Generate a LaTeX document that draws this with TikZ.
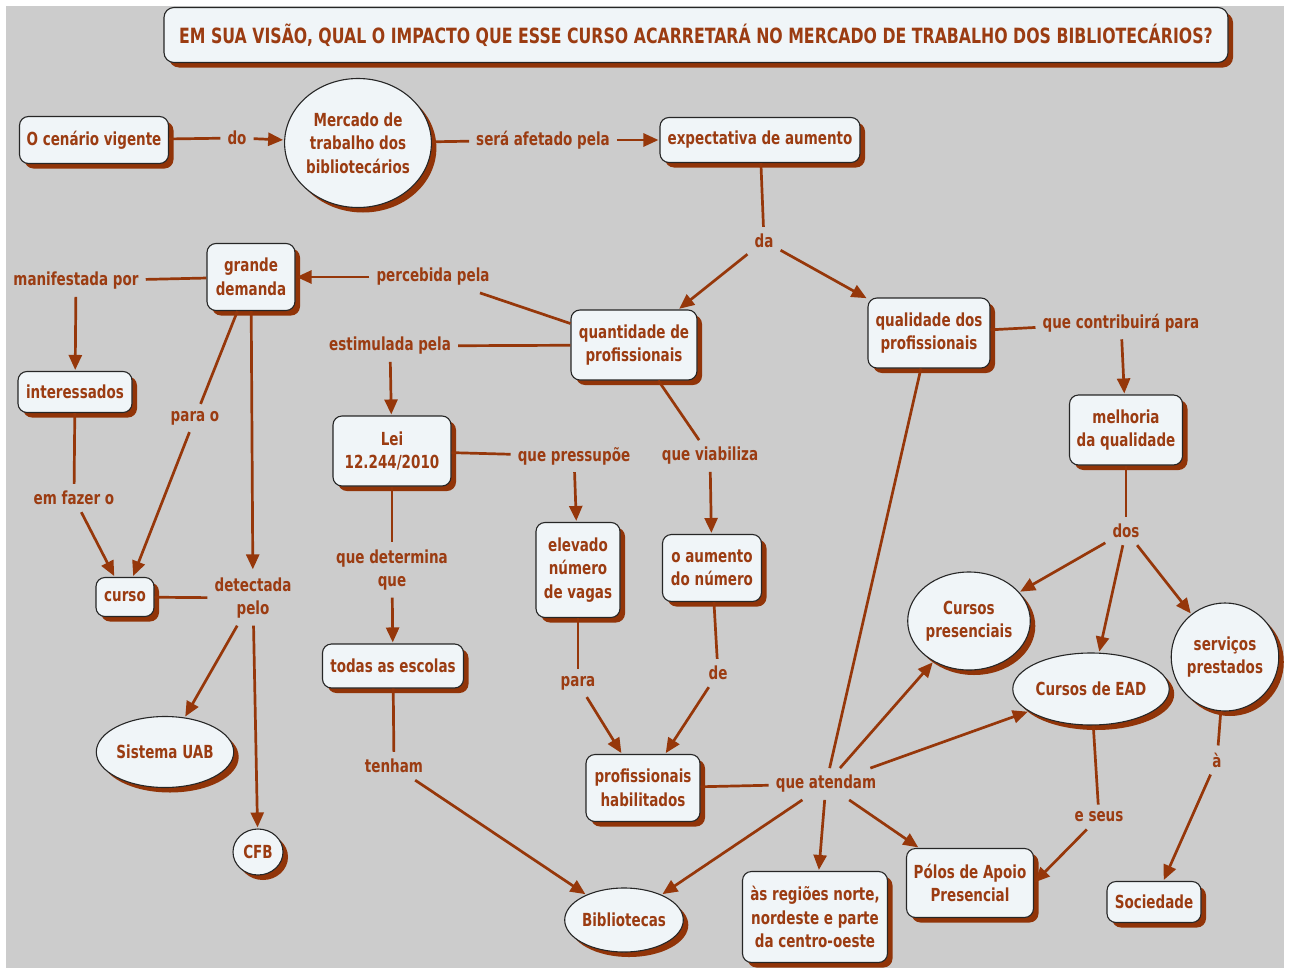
\documentclass[tikz,border=0pt]{standalone}
\usepackage{fontspec}
\usetikzlibrary{arrows.meta,shapes.geometric,shadows}
\newfontfamily\mapface{DejaVu Sans}[FakeStretch=0.75]
\newcommand\mapfont{\mapface\bfseries\fontsize{18}{23.5}\selectfont}
\newcommand\headfont{\mapface\bfseries\fontsize{21}{25}\selectfont}
\definecolor{canvasgray}{RGB}{204,204,204}
\definecolor{txt}{RGB}{155,60,18}
\definecolor{lnk}{RGB}{150,55,10}
\definecolor{shade}{RGB}{145,52,8}
\definecolor{nodefill}{RGB}{240,245,248}
\tikzset{
  concept/.style={draw=black!85, line width=1.1pt, fill=nodefill, rounded corners=9pt,
    align=center, text=txt, font=\mapfont, inner sep=2pt,
    drop shadow={shadow xshift=5pt, shadow yshift=-5pt, fill=shade, opacity=1}},
  oval/.style={concept, ellipse, rounded corners=0pt, inner sep=0pt},
  lbl/.style={text=txt, font=\mapfont, align=center, inner sep=7pt},
  link/.style={draw=lnk, line width=2.7pt},
  arr/.style={link, -{Triangle[length=15pt,width=13pt]}, shorten >=1pt}
}
\begin{document}
\begin{tikzpicture}[x=1pt,y=-1pt]
\useasboundingbox (0,0) rectangle (1291,972);
\fill[white] (0,0) rectangle (1291,972);
\fill[canvasgray] (6,6) rectangle (1284,968);

% heading
\node[concept, font=\headfont, minimum width=1064pt, minimum height=55pt, rounded corners=10pt] (title) at (696,35)
  {EM SUA VISÃO, QUAL O IMPACTO QUE ESSE CURSO ACARRETARÁ NO MERCADO DE TRABALHO DOS BIBLIOTECÁRIOS?};

% concepts
\node[concept, minimum width=149pt, minimum height=47pt] (cenario) at (94,140) {O cenário vigente};
\node[oval, minimum width=144pt, minimum height=129pt] (mercado) at (358,143) {Mercado de\\trabalho dos\\bibliotecários};
\node[concept, minimum width=200pt, minimum height=45pt] (expect) at (760,140) {expectativa de aumento};
\node[concept, minimum width=88pt, minimum height=67pt] (grande) at (251,277) {grande\\demanda};
\node[concept, minimum width=126pt, minimum height=70pt] (quant) at (634,345) {quantidade de\\profissionais};
\node[concept, minimum width=122pt, minimum height=70pt] (qual) at (929,333) {qualidade dos\\profissionais};
\node[concept, minimum width=114pt, minimum height=41pt] (interes) at (75,392) {interessados};
\node[concept, minimum width=118pt, minimum height=70pt] (lei) at (392,451) {Lei\\12.244/2010};
\node[concept, minimum width=113pt, minimum height=70pt] (melhoria) at (1126,430) {melhoria\\da qualidade};
\node[concept, minimum width=84pt, minimum height=95pt] (elevado) at (578,570) {elevado\\número\\de vagas};
\node[concept, minimum width=99pt, minimum height=67pt] (aumento) at (712,568) {o aumento\\do número};
\node[concept, minimum width=58pt, minimum height=39pt] (curso) at (125,597) {curso};
\node[concept, minimum width=141pt, minimum height=44pt] (todas) at (393,666) {todas as escolas};
\node[oval, minimum width=115pt, minimum height=98pt] (presenciais) at (969,621) {Cursos\\presenciais};
\node[oval, minimum width=126pt, minimum height=72pt] (ead) at (1091,689) {Cursos de EAD};
\node[oval, minimum width=106pt, minimum height=108pt] (servicos) at (1225,657) {serviços\\prestados};
\node[oval, minimum width=116pt, minimum height=71pt] (uab) at (165,752) {Sistema UAB};
\node[oval, minimum width=50pt, minimum height=46pt] (cfb) at (258,852) {CFB};
\node[concept, minimum width=114pt, minimum height=67pt] (prof) at (643,788) {profissionais\\habilitados};
\node[oval, minimum width=102pt, minimum height=64pt] (biblio) at (624,920) {Bibliotecas};
\node[concept, minimum width=145pt, minimum height=91pt] (regioes) at (815,917) {às regiões norte,\\nordeste e parte\\da centro-oeste};
\node[concept, minimum width=127pt, minimum height=69pt] (polos) at (970,883) {Pólos de Apoio\\Presencial};
\node[concept, minimum width=94pt, minimum height=41pt] (socied) at (1154,902) {Sociedade};

% linking phrases
\node[lbl] (do) at (237,138) {do};
\node[lbl] (afetado) at (543,140) {será afetado pela};
\node[lbl] (da) at (764,241) {da};
\node[lbl] (percebida) at (433,277) {percebida pela};
\node[lbl] (manifestada) at (76,281) {manifestada por};
\node[lbl] (estimulada) at (390,346) {estimulada pela};
\node[lbl] (contribuira) at (1121,323) {que contribuirá para};
\node[lbl] (parao) at (195,418) {para o};
\node[lbl] (fazer) at (74,498) {em fazer o};
\node[lbl] (pressupoe) at (574,456) {que pressupõe};
\node[lbl] (viabiliza) at (710,456) {que viabiliza};
\node[lbl] (determina) at (392,570) {que determina\\que};
\node[lbl] (detect) at (253,598) {detectada\\pelo};
\node[lbl] (dos) at (1126,531) {dos};
\node[lbl] (para) at (578,683) {para};
\node[lbl] (de) at (718,673) {de};
\node[lbl] (tenham) at (394,766) {tenham};
\node[lbl] (atendam) at (826,784) {que atendam};
\node[lbl] (eseus) at (1099,817) {e seus};
\node[lbl] (a) at (1217,760) {à};

% connectors
\draw[link] (cenario) -- (do);
\draw[arr] (do) -- (mercado);
\draw[link] (mercado) -- (afetado);
\draw[arr] (afetado) -- (expect);
\draw[link] (expect) -- (da);
\draw[arr] (da) -- (quant);
\draw[arr] (da) -- (qual);
\draw[link] (quant) -- (percebida);
\draw[arr] (percebida) -- (grande);
\draw[link] (grande) -- (manifestada);
\draw[arr] (manifestada) -- (interes);
\draw[link] (interes) -- (fazer);
\draw[arr] (fazer) -- (curso);
\draw[link] (grande) -- (parao);
\draw[arr] (parao) -- (curso);
\draw[arr] (grande) -- (detect);
\draw[link] (curso) -- (detect);
\draw[arr] (detect) -- (uab);
\draw[arr] (detect) -- (cfb);
\draw[link] (quant) -- (estimulada);
\draw[arr] (estimulada) -- (lei);
\draw[link] (lei) -- (pressupoe);
\draw[arr] (pressupoe) -- (elevado);
\draw[link] (quant) -- (viabiliza);
\draw[arr] (viabiliza) -- (aumento);
\draw[link] (lei) -- (determina);
\draw[arr] (determina) -- (todas);
\draw[link] (todas) -- (tenham);
\draw[arr] (tenham) -- (biblio);
\draw[link] (elevado) -- (para);
\draw[arr] (para) -- (prof);
\draw[link] (aumento) -- (de);
\draw[arr] (de) -- (prof);
\draw[link] (prof) -- (atendam);
\draw[link] (qual) -- (atendam);
\draw[arr] (atendam) -- (biblio);
\draw[arr] (atendam) -- (regioes);
\draw[arr] (atendam) -- (polos);
\draw[arr] (atendam) -- (presenciais);
\draw[arr] (atendam) -- (ead);
\draw[link] (qual) -- (contribuira);
\draw[arr] (contribuira) -- (melhoria);
\draw[link] (melhoria) -- (dos);
\draw[arr] (dos) -- (presenciais);
\draw[arr] (dos) -- (ead);
\draw[arr] (dos) -- (servicos);
\draw[link] (ead) -- (eseus);
\draw[arr] (eseus) -- (polos.east);
\draw[link] (servicos) -- (a);
\draw[arr] (a) -- (socied);
\end{tikzpicture}
\end{document}
